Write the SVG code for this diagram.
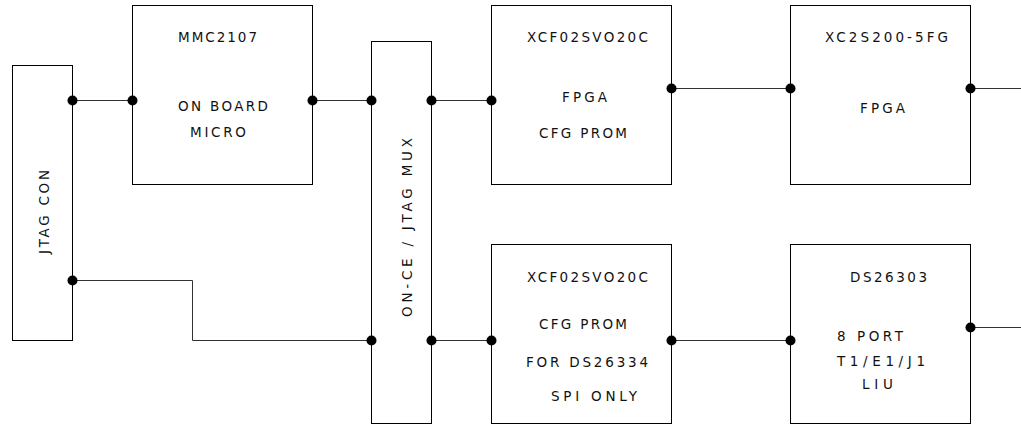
<svg xmlns="http://www.w3.org/2000/svg" width="1021" height="425" viewBox="0 0 1021 425">
<style>
.box{fill:none;stroke:#000;stroke-width:1}
.wire{fill:none;stroke:#333;stroke-width:1}
.dot{fill:#000}
text{font-family:"DejaVu Sans","Liberation Sans",sans-serif;font-size:13.5px;fill:#111}
</style>
<rect width="1021" height="425" fill="#fff"/>
<g id="connectors">
<path class="wire" d="M72.5 100.5H132.5"/>
<path class="wire" d="M312.5 100.5H371.5"/>
<path class="wire" d="M431.5 100.5H491.5"/>
<path class="wire" d="M671.5 88.5H790.5"/>
<path class="wire" d="M970.5 88.5H1021"/>
<path class="wire" d="M72.5 280.5H192.5V340.5H371.5"/>
<path class="wire" d="M431.5 340.5H491.5"/>
<path class="wire" d="M671.5 340.5H790.5"/>
<path class="wire" d="M970.5 327.5H1021"/>
<g class="dot">
<circle cx="72.5" cy="100.5" r="5"/><circle cx="132.5" cy="100.5" r="5"/><circle cx="312.5" cy="100.5" r="5"/>
<circle cx="371.5" cy="100.5" r="5"/><circle cx="431.5" cy="100.5" r="5"/><circle cx="491.5" cy="100.5" r="5"/>
<circle cx="671.5" cy="88.5" r="5"/><circle cx="790.5" cy="88.5" r="5"/><circle cx="970.5" cy="88.5" r="5"/>
<circle cx="72.5" cy="280.5" r="5"/><circle cx="371.5" cy="340.5" r="5"/><circle cx="431.5" cy="340.5" r="5"/>
<circle cx="491.5" cy="340.5" r="5"/><circle cx="671.5" cy="340.5" r="5"/><circle cx="790.5" cy="340.5" r="5"/>
<circle cx="970.5" cy="327.5" r="5"/>
</g>
</g>
<g id="jtag-con">
<rect class="box" x="12.5" y="65.5" width="60" height="275"/>
<text transform="translate(49,254) rotate(-90)" textLength="84" lengthAdjust="spacing">JTAG CON</text>
</g>
<g id="mmc2107">
<rect class="box" x="132.5" y="5.5" width="180" height="179"/>
<text x="178" y="42" textLength="79" lengthAdjust="spacing">MMC2107</text>
<text x="178" y="111" textLength="90" lengthAdjust="spacing">ON BOARD</text>
<text x="190" y="137" textLength="56" lengthAdjust="spacing">MICRO</text>
</g>
<g id="jtag-mux">
<rect class="box" x="371.5" y="41.5" width="60" height="382"/>
<text transform="translate(412,317) rotate(-90)" textLength="179" lengthAdjust="spacing">ON-CE / JTAG MUX</text>
</g>
<g id="fpga-prom">
<rect class="box" x="491.5" y="5.5" width="180" height="179"/>
<text x="527" y="42" textLength="121" lengthAdjust="spacing">XCF02SVO20C</text>
<text x="562" y="102" textLength="45" lengthAdjust="spacing">FPGA</text>
<text x="539" y="138" textLength="88" lengthAdjust="spacing">CFG PROM</text>
</g>
<g id="fpga">
<rect class="box" x="790.5" y="5.5" width="180" height="179"/>
<text x="825" y="42" textLength="123" lengthAdjust="spacing">XC2S200-5FG</text>
<text x="860" y="113" textLength="45" lengthAdjust="spacing">FPGA</text>
</g>
<g id="spi-prom">
<rect class="box" x="491.5" y="244.5" width="180" height="179"/>
<text x="527" y="282" textLength="121" lengthAdjust="spacing">XCF02SVO20C</text>
<text x="539" y="329" textLength="88" lengthAdjust="spacing">CFG PROM</text>
<text x="526" y="367" textLength="122" lengthAdjust="spacing">FOR DS26334</text>
<text x="551" y="401" textLength="86" lengthAdjust="spacing">SPI ONLY</text>
</g>
<g id="ds26303">
<rect class="box" x="790.5" y="244.5" width="180" height="179"/>
<text x="850" y="282" textLength="77" lengthAdjust="spacing">DS26303</text>
<text x="837" y="341" textLength="66" lengthAdjust="spacing">8 PORT</text>
<text x="837" y="366" textLength="88" lengthAdjust="spacing">T1/E1/J1</text>
<text x="862" y="389" textLength="31" lengthAdjust="spacing">LIU</text>
</g>
</svg>
